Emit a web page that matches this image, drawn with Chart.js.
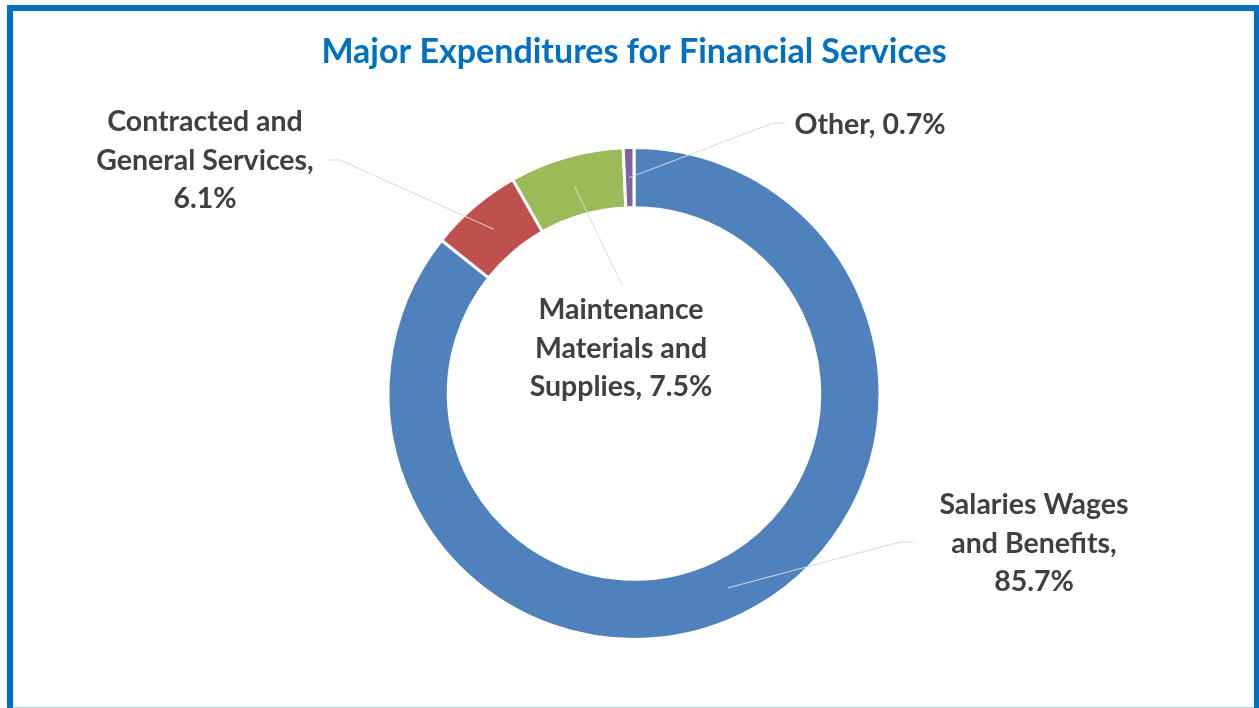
<!DOCTYPE html>
<html>
<head>
<meta charset="utf-8">
<title>Major Expenditures for Financial Services</title>
<script src="https://cdn.jsdelivr.net/npm/chart.js@4.4.0/dist/chart.umd.min.js"></script>
<style>
  html, body { margin: 0; padding: 0; background: #fff; overflow: hidden; }
  #wrap { position: relative; width: 1259px; height: 708px; }
  #frame {
    position: absolute; left: 7px; top: 5px; width: 1253px; height: 720px;
    box-sizing: border-box; border: 6px solid #0070C0;
  }
  #baseLine { position: absolute; left: 13px; top: 707px; width: 1241px; height: 1px; background: #B4CFEA; }
  #chart { position: absolute; left: 0; top: 0; }
</style>
</head>
<body>
<div id="wrap">
  <canvas id="chart" width="1259" height="708"></canvas>
  <div id="frame"></div>
  <div id="baseLine"></div>
</div>
<script>
var chartTitle = "Major Expenditures for Financial Services";
var categories = [
  "Salaries Wages and Benefits",
  "Contracted and General Services",
  "Maintenance Materials and Supplies",
  "Other"
];
var shares = [85.7, 6.1, 7.5, 0.7];
var sliceColors = ["#4F81BD", "#C0504D", "#9BBB59", "#8064A2"];

// where each label sits and where its leader line leaves it
var labelSpots = [
  { x: 1034, y: 505, from: [913, 542], elbow: [900, 542] },
  { x: 205, y: 122, from: [327, 160], elbow: [340, 160] },
  { x: 621, y: 310, from: [622, 285], elbow: null },
  { x: 870, y: 125, from: [785, 123], elbow: [773, 123] }
];

var LABEL_FONT = "bold 28.5px Lato";
var LINE_GAP = 38.5;
var WRAP_WIDTH = 230;

function wrapText(ctx, text, maxWidth) {
  var words = text.split(" ");
  var lines = [];
  var line = "";
  words.forEach(function (w) {
    var test = line ? line + " " + w : w;
    if (line && ctx.measureText(test).width > maxWidth) {
      lines.push(line);
      line = w;
    } else {
      line = test;
    }
  });
  lines.push(line);
  return lines;
}

var sliceLabels = {
  id: "sliceLabels",
  afterDatasetsDraw: function (chart) {
    var ctx = chart.ctx;
    var arcs = chart.getDatasetMeta(0).data;

    ctx.save();
    // title
    ctx.font = "bold 34px Lato";
    ctx.fillStyle = "#0070C0";
    ctx.textAlign = "center";
    ctx.textBaseline = "middle";
    ctx.fillText(chartTitle, 634, 52);

    // leader lines
    ctx.strokeStyle = "#D9D9D9";
    ctx.lineWidth = 1;
    arcs.forEach(function (arc, i) {
      var spot = labelSpots[i];
      var end = arc.tooltipPosition();
      ctx.beginPath();
      ctx.moveTo(spot.from[0], spot.from[1]);
      if (spot.elbow) ctx.lineTo(spot.elbow[0], spot.elbow[1]);
      ctx.lineTo(end.x, end.y);
      ctx.stroke();
    });

    // labels
    ctx.font = LABEL_FONT;
    ctx.fillStyle = "#404040";
    categories.forEach(function (name, i) {
      var spot = labelSpots[i];
      var text = name + ", " + shares[i].toFixed(1) + "%";
      var lines = wrapText(ctx, text, WRAP_WIDTH);
      lines.forEach(function (ln, k) {
        ctx.fillText(ln, spot.x, spot.y + k * LINE_GAP);
      });
    });
    ctx.restore();
  }
};

new Chart(document.getElementById("chart"), {
  type: "doughnut",
  data: {
    labels: categories,
    datasets: [{
      data: shares,
      backgroundColor: sliceColors,
      borderColor: "#FFFFFF",
      borderWidth: 3
    }]
  },
  options: {
    responsive: false,
    animation: false,
    cutout: "75.5%",
    layout: { padding: { top: 146, bottom: 67, left: 9, right: 0 } },
    plugins: {
      legend: { display: false },
      tooltip: { enabled: false },
      title: { display: false }
    }
  },
  plugins: [sliceLabels]
});
</script>
</body>
</html>
